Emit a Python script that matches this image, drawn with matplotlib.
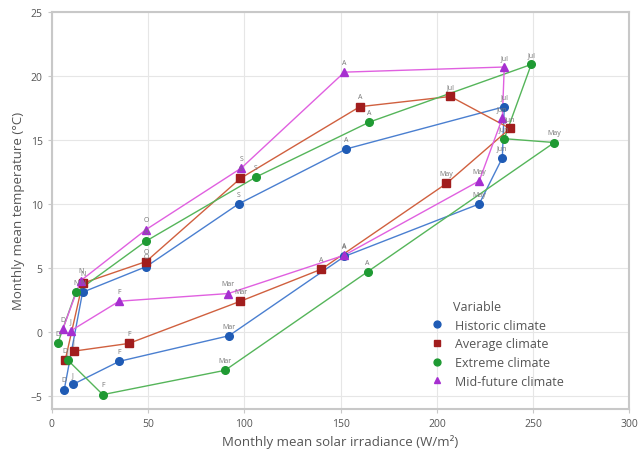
import matplotlib
matplotlib.use("Agg")
import matplotlib.pyplot as plt

plt.rcParams['font.family'] = ['Open Sans', 'DejaVu Sans']

# --- Data ---
months = ["J", "F", "Mar", "A", "May", "Jun", "Jul", "A", "S", "O", "N", "D"]

hist_x = [11, 35, 92, 152, 222, 234, 235, 153, 97, 49, 16, 6.5]
hist_y = [-4.1, -2.3, -0.3, 5.9, 10.0, 13.6, 17.6, 14.3, 10.0, 5.1, 3.1, -4.5]

avg_x = [11.5, 40, 98, 140, 205, 238, 207, 160, 98, 49, 16, 7]
avg_y = [-1.5, -0.9, 2.4, 4.9, 11.6, 15.9, 18.4, 17.6, 12.0, 5.5, 3.8, -2.2]

ext_x = [8.3, 26.5, 90, 164, 261, 235, 249, 165, 106, 49, 12.5, 3.1]
ext_y = [-2.2, -4.9, -3.0, 4.7, 14.8, 15.1, 20.9, 16.4, 12.1, 7.1, 3.1, -0.9]

mid_x = [10, 35, 91.7, 152, 222, 234, 235, 152, 98.4, 49, 15, 5.7]
mid_y = [0.1, 2.4, 3.0, 6.0, 11.8, 16.7, 20.7, 20.3, 12.8, 8.0, 4.0, 0.2]

series = [
    ("Historic climate", hist_x, hist_y, 'o', '#1f5bb5', '#4a7fd0'),
    ("Average climate", avg_x, avg_y, 's', '#a11d1d', '#d0603f'),
    ("Extreme climate", ext_x, ext_y, 'o', '#1f9a33', '#55b55a'),
    ("Mid-future climate", mid_x, mid_y, '^', '#a62fd0', '#e060e0'),
]

fig, ax = plt.subplots(figsize=(6.39, 4.64), dpi=100)

for name, xs, ys, mk, mcol, lcol in series:
    ax.plot(xs, ys, '-', color=lcol, lw=1.0, zorder=2)
    ax.plot(xs, ys, mk, color=mcol, ms=5.5, zorder=3, label=name, linestyle='none')
    for m, xv, yv in zip(months, xs, ys):
        ax.annotate(m, (xv, yv), xytext=(0, 4.5), textcoords='offset points',
                    ha='center', va='bottom', fontsize=5, color='#777777', zorder=4)

ax.set_xlim(0, 300)
ax.set_ylim(-6, 25)
ax.set_xticks([0, 50, 100, 150, 200, 250, 300])
ax.set_yticks([-5, 0, 5, 10, 15, 20, 25])
ax.grid(True, color='#e6e6e6', lw=0.8)
ax.set_axisbelow(True)
for s in ax.spines.values():
    s.set_color('#c8c8c8')
    s.set_linewidth(1.5)
ax.tick_params(colors='#c8c8c8', labelcolor='#555555', labelsize=7.5, length=3)

ax.set_xlabel("Monthly mean solar irradiance (W/m²)", fontsize=9.5, color='#555555')
ax.set_ylabel("Monthly mean temperature (°C)", fontsize=9.5, color='#555555')

# legend title sits over the entry texts, not the markers
ax.legend(loc='lower left', bbox_to_anchor=(0.625, 0.025),
          frameon=False, fontsize=9, handletextpad=0.5,
          labelspacing=0.45, labelcolor='#555555', markerscale=0.9)
ax.text(0.695, 0.257, "Variable", transform=ax.transAxes, fontsize=9,
        color='#555555', ha='left', va='center')

plt.subplots_adjust(left=0.081, right=0.985, top=0.972, bottom=0.117)
plt.savefig("out.png", dpi=100)
